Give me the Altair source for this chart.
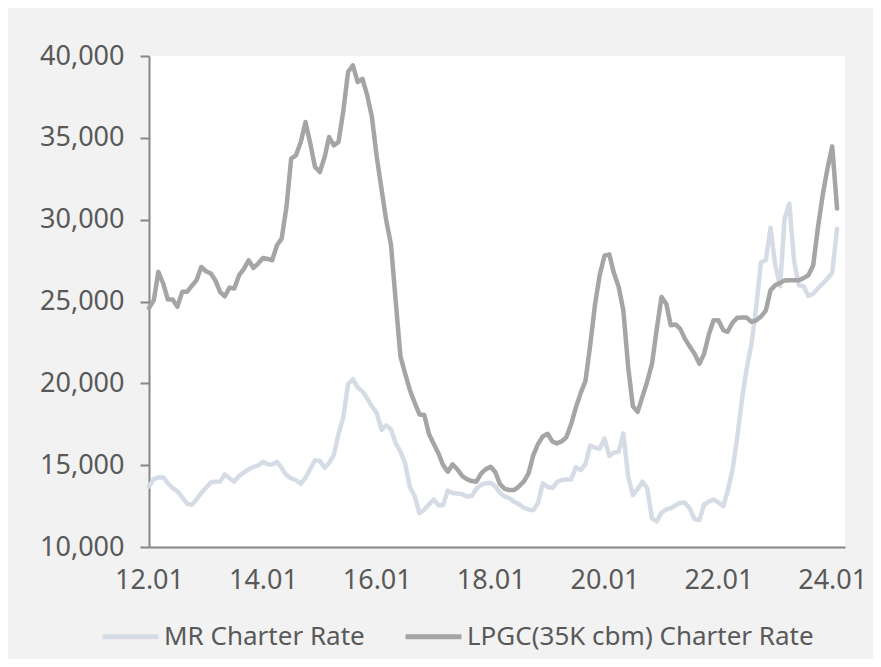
import altair as alt
import pandas as pd

# ---- data ----
first_month = "2012-01-01"
n_months = 146
months = pd.date_range(first_month, periods=n_months, freq="MS").strftime("%Y-%m-%d").tolist()

mr_rate = [
    13700, 14150, 14250, 14250, 13900, 13600, 13400, 13050, 12650, 12580, 12900, 13300,
    13620, 13950, 13990, 14000, 14430, 14200, 14000, 14350, 14560, 14750, 14890, 14980,
    15200, 15060, 15040, 15200, 14830, 14390, 14200, 14080, 13870, 14230, 14780, 15300,
    15250, 14840, 15130, 15630, 16900, 17950, 19950, 20250, 19750, 19510, 19070, 18600,
    18200, 17150, 17440, 17200, 16350, 15830, 15100, 13650, 13100, 12060, 12280, 12600,
    12900, 12550, 12550, 13450, 13300, 13270, 13230, 13080, 13110, 13560, 13800, 13900,
    13930, 13700, 13300, 13090, 12980, 12760, 12620, 12400, 12300, 12250, 12700, 13890,
    13670, 13600, 13950, 14100, 14130, 14130, 14880, 14700, 15070, 16200, 16080, 16000,
    16630, 15560, 15780, 15820, 16940, 14290, 13170, 13550, 13990, 13580, 11750, 11560,
    12100, 12300, 12360, 12550, 12700, 12700, 12350, 11700, 11650, 12600, 12770, 12900,
    12720, 12500, 13400, 14700, 16650, 19000, 20900, 22400, 24700, 27400, 27520, 29500,
    27200, 25930, 30050, 30980, 27500, 25990, 25930, 25330, 25480, 25800, 26100, 26400,
    26750, 29450,
]

lpgc_rate = [
    24600, 25080, 26810, 26100, 25120, 25120, 24670, 25590, 25590, 25950, 26300, 27110,
    26850, 26710, 26300, 25590, 25320, 25850, 25790, 26610, 27000, 27520, 27050, 27320,
    27660, 27600, 27520, 28440, 28840, 30780, 33730, 33930, 34750, 35970, 34640, 33220,
    32910, 33830, 35050, 34540, 34750, 36680, 39020, 39430, 38410, 38610, 37590, 36270,
    33830, 31850, 30000, 28500, 25100, 21650, 20600, 19580, 18800, 18100, 18060, 16900,
    16300, 15700, 15020, 14600, 15050, 14750, 14350, 14150, 14030, 13990, 14500, 14760,
    14900, 14550, 13850, 13550, 13480, 13480, 13700, 13990, 14500, 15600, 16300, 16750,
    16920, 16450, 16330, 16450, 16700, 17500, 18500, 19400, 20150, 22300, 24800, 26600,
    27800, 27880, 26750, 25900, 24450, 21000, 18600, 18260, 19200, 20100, 21200, 23300,
    25280, 24850, 23550, 23600, 23330, 22700, 22250, 21800, 21200, 21800, 23000, 23850,
    23860, 23250, 23150, 23700, 24000, 24020, 24020, 23750, 23850, 24080, 24450, 25680,
    26000, 26140, 26290, 26300, 26300, 26300, 26430, 26600, 27220, 29500, 31500, 33100,
    34480, 30680,
]

series_names = ["MR Charter Rate", "LPGC(35K cbm) Charter Rate"]
series_colors = ["#D6DCE5", "#A5A5A5"]
y_ticks = [10000, 15000, 20000, 25000, 30000, 35000, 40000]
x_tick_years = [2012, 2014, 2016, 2018, 2020, 2022, 2024]

df = pd.DataFrame({
    "date": months + months,
    "rate": mr_rate + lpgc_rate,
    "series": [series_names[0]] * n_months + [series_names[1]] * n_months,
})

FONT = "Noto Sans"
TEXT = "#595959"
AXIS = "#868686"

x_enc = alt.X(
    "date:T",
    scale=alt.Scale(
        type="utc",
        domain=[alt.DateTime(year=2012, month=1, date=1, utc=True),
                alt.DateTime(year=2024, month=3, date=23, utc=True)],
    ),
    axis=alt.Axis(
        title=None,
        values=[alt.DateTime(year=y, month=1, date=1, utc=True) for y in x_tick_years],
        format="%y.%m",
        grid=False,
        ticks=False,
        tickSize=0,
        domainColor=AXIS,
        domainWidth=2,
        labelFont=FONT,
        labelFontSize=27,
        labelColor=TEXT,
        labelPadding=20,
        labelFlush=False,
        labelOverlap=False,
    ),
)

y_enc = alt.Y(
    "rate:Q",
    scale=alt.Scale(domain=[10000, 40000], nice=False, zero=False),
    axis=alt.Axis(
        title=None,
        values=y_ticks,
        format=",.0f",
        grid=False,
        domainColor=AXIS,
        domainWidth=2,
        tickColor=AXIS,
        tickWidth=2,
        tickSize=9,
        labelFont=FONT,
        labelFontSize=27,
        labelColor=TEXT,
        labelPadding=16,
        labelFlush=False,
        labelOverlap=False,
    ),
)

color_enc = alt.Color(
    "series:N",
    scale=alt.Scale(domain=series_names, range=series_colors),
    legend=alt.Legend(
        title=None,
        orient="none",
        direction="horizontal",
        legendX=-49,
        legendY=550,
        symbolType="stroke",
        symbolSize=3136,
        symbolStrokeWidth=5,
        labelFont=FONT,
        labelFontSize=26,
        labelColor=TEXT,
        labelOffset=3,
        labelLimit=600,
        columnPadding=30,
    ),
)

base = alt.Chart(df).mark_line(
    strokeWidth=4.5, strokeCap="round", strokeJoin="round"
).encode(x=x_enc, y=y_enc, color=color_enc)

mr_layer = base.transform_filter(alt.datum.series == series_names[0])
lpgc_layer = base.transform_filter(alt.datum.series == series_names[1])

chart = alt.layer(mr_layer, lpgc_layer).properties(
    width=696,
    height=491,
    autosize=alt.AutoSizeParams(type="none"),
    padding={"left": 141, "top": 48, "right": 28, "bottom": 112},
    background="#F2F2F2",
).configure_view(fill="white", strokeWidth=0)

chart.save("out.html", embed_options={"renderer": "svg", "actions": False})
